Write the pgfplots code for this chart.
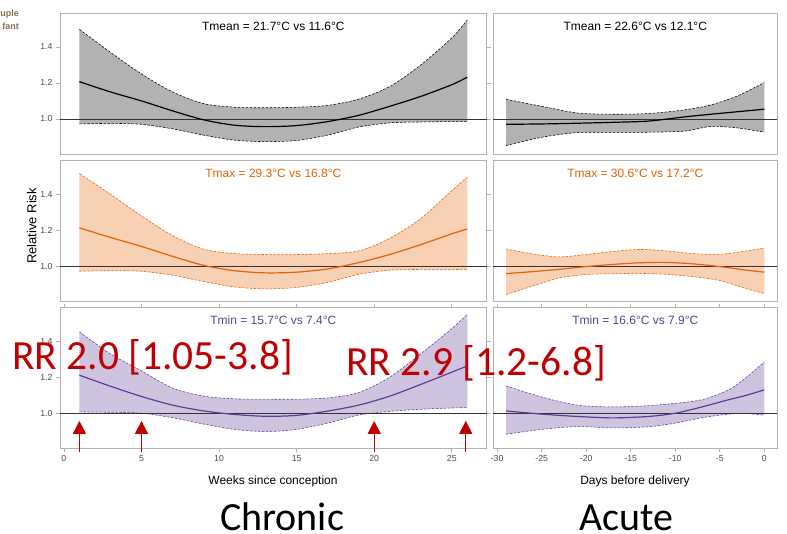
\documentclass[border=0pt]{standalone}
\usepackage{pgfplots}
\pgfplotsset{compat=1.18}
\usepackage{pgfplotstable}
\usepgfplotslibrary{fillbetween}
\usetikzlibrary{arrows.meta}
\usepackage{fontspec}
\setmainfont{Liberation Sans}
\newfontfamily\calibri{Carlito}

\definecolor{cor}{HTML}{E66101}
\definecolor{cpu}{HTML}{5E3C99}
\definecolor{rrred}{HTML}{C00000}
\definecolor{logo}{RGB}{140,112,85}

\pgfplotstableread{
x lo mid hi
1 0.972 1.207 1.498
3 0.975 1.150 1.370
5 0.970 1.100 1.250
7 0.945 1.045 1.150
9 0.910 0.995 1.085
11 0.882 0.965 1.065
13 0.874 0.957 1.062
15 0.880 0.963 1.065
17 0.910 0.985 1.075
19 0.955 1.020 1.110
21 0.978 1.070 1.180
23 0.983 1.125 1.300
25 0.985 1.190 1.450
26 0.985 1.232 1.550
}\tmeanc

\pgfplotstableread{
x lo mid hi
-29 0.852 0.970 1.109
-25 0.898 0.972 1.070
-21 0.924 0.976 1.033
-17 0.925 0.981 1.026
-13 0.926 0.988 1.030
-9 0.932 1.011 1.050
-6 0.958 1.026 1.078
-3 0.950 1.040 1.128
0 0.926 1.054 1.202
}\tmeana

\pgfplotstableread{
x lo mid hi
1 0.972 1.213 1.515
3 0.975 1.160 1.400
5 0.972 1.110 1.280
7 0.950 1.055 1.170
9 0.915 1.005 1.095
11 0.885 0.975 1.070
13 0.874 0.963 1.065
15 0.882 0.967 1.065
17 0.910 0.985 1.070
19 0.955 1.020 1.085
21 0.978 1.065 1.155
23 0.982 1.120 1.265
25 0.982 1.180 1.420
26 0.981 1.207 1.496
}\tmaxc

\pgfplotstableread{
x lo mid hi
-29 0.843 0.959 1.096
-26 0.890 0.970 1.068
-23 0.935 0.983 1.052
-20 0.954 0.998 1.065
-17 0.958 1.010 1.082
-14 0.960 1.019 1.093
-11 0.955 1.021 1.085
-8 0.942 1.013 1.070
-5 0.920 0.998 1.066
-2 0.875 0.978 1.085
0 0.848 0.967 1.102
}\tmaxa

\pgfplotstableread{
x lo mid hi
1 1.007 1.211 1.452
3 1.005 1.150 1.330
5 1.000 1.093 1.235
7 0.975 1.045 1.140
9 0.940 1.013 1.095
11 0.910 0.993 1.080
13 0.898 0.983 1.078
15 0.910 0.988 1.078
17 0.945 1.012 1.085
19 0.990 1.045 1.115
21 1.010 1.095 1.200
23 1.022 1.160 1.330
25 1.029 1.228 1.470
26 1.031 1.263 1.550
}\tminc

\pgfplotstableread{
x lo mid hi
-29 0.883 1.013 1.152
-25 0.910 0.995 1.090
-21 0.926 0.982 1.045
-17 0.918 0.974 1.035
-13 0.925 0.982 1.042
-10 0.945 1.000 1.055
-7 0.975 1.035 1.075
-4 0.995 1.075 1.130
-2 0.998 1.100 1.200
0 0.989 1.130 1.285
}\tmina

\pgfplotsset{
  panel/.style={scale only axis, height=140.7pt, ymin=0.805, ymax=1.587,
    axis line style={gray!60, line width=0.6pt},
    tick style={gray!60, line width=0.6pt},
    tick align=outside, major tick length=4pt,
    ytick={1.0,1.2,1.4}, yticklabels={1.0,1.2,1.4},
    tick label style={font=\fontsize{8.7}{9}\selectfont, text=black!70},
    /pgf/number format/assume math mode=true,
    xtick=\empty, clip=false, anchor=south west},
  leftcol/.style={width=426.7pt, xmin=-0.25, xmax=27.25},
  rightcol/.style={width=284pt, xmin=-30.43, xmax=1.46, ytick=\empty},
  ci/.style={line width=0.55pt, dash pattern=on 2.5pt off 1.5pt, smooth},
  mline/.style={line width=1.2pt, smooth},
  hl/.style={black!80, line width=0.6pt},
}
\tikzset{ptitle/.style={anchor=base, inner sep=0pt, font=\fontsize{12}{12}\selectfont, yshift=-16.7pt}}

% panel macro: #1 table, #2 line colour, #3 fill colour, #4 title, #5 xmin, #6 xmax
\newcommand\panelplots[6]{%
  \addplot[name path=up, draw=none, forget plot, smooth] table[x=x,y=hi]{#1};
  \addplot[name path=lo, draw=none, forget plot, smooth] table[x=x,y=lo]{#1};
  \addplot[fill=#3, draw=none] fill between[of=up and lo];
  \addplot[ci, draw=#2] table[x=x,y=hi]{#1};
  \addplot[ci, draw=#2] table[x=x,y=lo]{#1};
  \addplot[hl] coordinates {(#5,1) (#6,1)};
  \addplot[mline, draw=#2] table[x=x,y=mid]{#1};
  \node[ptitle, text=#2] at (rel axis cs:0.5,1) {#4};
}

\begin{document}
\begin{tikzpicture}[x=1pt,y=1pt]

% row 1
\begin{axis}[panel, leftcol, at={(60pt,379pt)}]
\panelplots{\tmeanc}{black}{black!30}{Tmean = 21.7°C vs 11.6°C}{-0.25}{27.25}
\end{axis}
\begin{axis}[panel, rightcol, at={(493.3pt,379pt)}]
\panelplots{\tmeana}{black}{black!30}{Tmean = 22.6°C vs 12.1°C}{-30.43}{1.46}
\end{axis}

% row 2
\begin{axis}[panel, leftcol, at={(60pt,231.7pt)}]
\panelplots{\tmaxc}{cor}{cor!30}{Tmax = 29.3°C vs 16.8°C}{-0.25}{27.25}
\end{axis}
\begin{axis}[panel, rightcol, at={(493.3pt,231.7pt)}]
\panelplots{\tmaxa}{cor}{cor!30}{Tmax = 30.6°C vs 17.2°C}{-30.43}{1.46}
\end{axis}

% row 3
\begin{axis}[panel, leftcol, at={(60pt,84.7pt)},
  xtick={0,5,10,15,20,25}, xticklabels={0,5,10,15,20,25}]
\panelplots{\tminc}{cpu}{cpu!30}{Tmin = 15.7°C vs 7.4°C}{-0.25}{27.25}
\draw[rrred, line width=1.4pt, -{Triangle[width=13pt,length=13pt]}] (axis cs:1,0.783) -- (axis cs:1,0.957);
\draw[rrred, line width=1.4pt, -{Triangle[width=13pt,length=13pt]}] (axis cs:5,0.783) -- (axis cs:5,0.957);
\draw[rrred, line width=1.4pt, -{Triangle[width=13pt,length=13pt]}] (axis cs:20,0.783) -- (axis cs:20,0.957);
\draw[rrred, line width=1.4pt, -{Triangle[width=13pt,length=13pt]}] (axis cs:25.9,0.783) -- (axis cs:25.9,0.957);
\end{axis}
\begin{axis}[panel, rightcol, at={(493.3pt,84.7pt)},
  xtick={-30,-25,-20,-15,-10,-5,0}, xticklabels={-30,-25,-20,-15,-10,-5,0}]
\panelplots{\tmina}{cpu}{cpu!30}{Tmin = 16.6°C vs 7.9°C}{-30.43}{1.46}
\end{axis}

% labels
\node[rotate=90, font=\fontsize{13}{13}\selectfont] at (31.7,307) {Relative Risk};
\node[anchor=base, inner sep=0pt, font=\fontsize{12}{12}\selectfont] at (273,49) {Weeks since conception};
\node[anchor=base, inner sep=0pt, font=\fontsize{12}{12}\selectfont] at (635,49) {Days before delivery};

% annotations
\node[anchor=base west, inner sep=0pt, text=rrred, font=\calibri\fontsize{41.5}{42}\selectfont] at (12,163) {RR 2.0 [1.05-3.8]};
\node[anchor=base west, inner sep=0pt, text=rrred, font=\calibri\fontsize{41.5}{42}\selectfont] at (346,157) {RR 2.9 [1.2-6.8]};
\node[anchor=base west, inner sep=0pt, font=\calibri\fontsize{40}{40}\selectfont] at (220,3) {Chronic};
\node[anchor=base west, inner sep=0pt, font=\calibri\fontsize{40}{40}\selectfont] at (579,3) {Acute};

% logo remnant
\node[anchor=base east, inner sep=0pt, text=logo, font=\bfseries\fontsize{9}{9}\selectfont] at (19,516.3) {uple};
\node[anchor=base east, inner sep=0pt, text=logo, font=\bfseries\fontsize{9}{9}\selectfont] at (19,503.7) {fant};

\pgfresetboundingbox
\path[use as bounding box] (0,0) rectangle (787,533);
\end{tikzpicture}
\end{document}
